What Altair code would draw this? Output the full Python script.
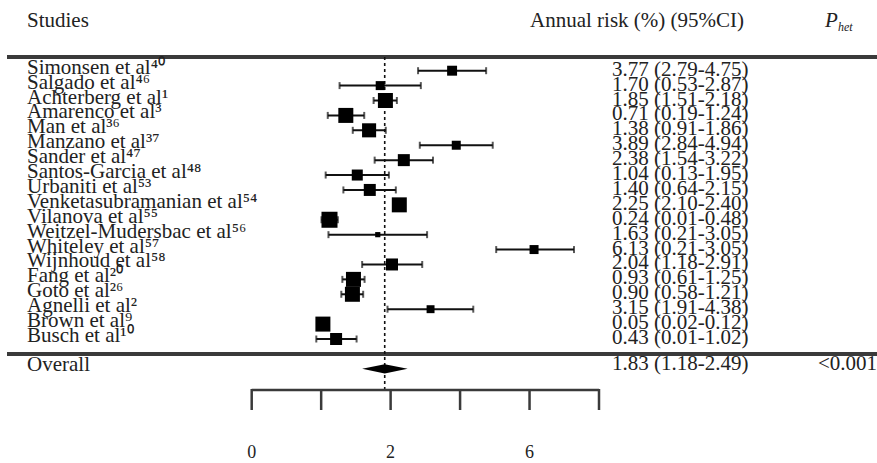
import altair as alt
import pandas as pd

# ---------------- data ----------------
studies = ["Simonsen et al", "Salgado et al", "Achterberg et al", "Amarenco et al", "Man et al",
           "Manzano et al", "Sander et al", "Santos-Garcia et al", "Urbaniti et al",
           "Venketasubramanian et al", "Vilanova et al", "Weitzel-Mudersbac et al", "Whiteley et al",
           "Wijnhoud et al", "Fang et al", "Goto et al", "Agnelli et al", "Brown et al", "Busch et al"]
refs = ["40", "46", "1", "3", "36", "37", "47", "48", "53", "54", "55", "56", "57", "58",
        "20", "26", "2", "9", "10"]
est = [3.77, 1.70, 1.85, 0.71, 1.38, 3.89, 2.38, 1.04, 1.40, 2.25, 0.24, 1.63, 6.13, 2.04,
       0.93, 0.90, 3.15, 0.05, 0.43]
lo = [2.79, 0.53, 1.51, 0.19, 0.91, 2.84, 1.54, 0.13, 0.64, 2.10, 0.01, 0.21, 5.04, 1.18,
      0.61, 0.58, 1.91, 0.02, -0.14]
hi = [4.75, 2.87, 2.18, 1.24, 1.86, 4.94, 3.22, 1.95, 2.15, 2.40, 0.48, 3.05, 7.28, 2.91,
      1.25, 1.21, 4.38, 0.12, 1.02]
weights = [2.2, 1.8, 5.0, 5.0, 4.4, 1.8, 3.2, 2.7, 3.2, 5.0, 5.7, 0.6, 1.8, 3.2, 5.0, 5.0,
           1.4, 5.0, 3.2]
ci_text = ["3.77 (2.79-4.75)", "1.70 (0.53-2.87)", "1.85 (1.51-2.18)", "0.71 (0.19-1.24)",
           "1.38 (0.91-1.86)", "3.89 (2.84-4.94)", "2.38 (1.54-3.22)", "1.04 (0.13-1.95)",
           "1.40 (0.64-2.15)", "2.25 (2.10-2.40)", "0.24 (0.01-0.48)", "1.63 (0.21-3.05)",
           "6.13 (0.21-3.05)", "2.04 (1.18-2.91)", "0.93 (0.61-1.25)", "0.90 (0.58-1.21)",
           "3.15 (1.91-4.38)", "0.05 (0.02-0.12)", "0.43 (0.01-1.02)"]
overall_est = 1.83
overall_lo = 1.18
overall_hi = 2.49
overall_text = "1.83 (1.18-2.49)"
p_het = "<0.001"
tick_values = [-2, 0, 2, 4, 6, 8]
tick_label_pos = [-2, 2, 6]
tick_label_text = ["0", "2", "6"]

SUP = str.maketrans("0123456789", "⁰¹²³⁴⁵⁶⁷⁸⁹")

n = len(studies)
df = pd.DataFrame({
    "row": list(range(1, n + 1)),
    "label": [s + r.translate(SUP) for s, r in zip(studies, refs)],
    "est": est, "lo": lo, "hi": hi, "w": weights, "txt": ci_text,
})
overall_row = n + 2
df_overall = pd.DataFrame({"row": [overall_row], "est": [overall_est],
                           "label": ["Overall"], "txt": [overall_text], "p": [p_het]})
half = 0.31
df_diamond = pd.DataFrame({
    "x": [overall_lo, overall_est, overall_hi],
    "ya": [overall_row, overall_row - half, overall_row],
    "yb": [overall_row, overall_row + half, overall_row],
})
df_ticks = pd.DataFrame({"t": tick_values})
df_axis = pd.DataFrame({"a": [min(tick_values)], "b": [max(tick_values)]})
df_tlab = pd.DataFrame({"t": tick_label_pos, "s": tick_label_text})

# ---------------- scales / styles ----------------
xs = alt.Scale(domain=[-2, 8], range=[251.7, 599], zero=False, nice=False)
ys = alt.Scale(domain=[1, 19], range=[70.7, 339], zero=False, nice=False)
FONT = "Liberation Serif"
TXT = "#222222"
LINE = "#3a3a3a"

X = lambda f: alt.X(f, scale=xs, axis=None)
Y = lambda f: alt.Y(f, scale=ys, axis=None)

base = alt.Chart(df)

sep_top = alt.Chart(df_overall).mark_rule(color=LINE, strokeWidth=4).encode(
    x=alt.value(7), x2=alt.value(877), y=alt.value(57))
sep_bot = alt.Chart(df_overall).mark_rule(color=LINE, strokeWidth=4).encode(
    x=alt.value(7), x2=alt.value(877), y=alt.value(354))

dashed = alt.Chart(df_overall).mark_rule(color="#111", strokeWidth=1.6, strokeDash=[3, 3]).encode(
    x=X("est:Q"), y=alt.value(57), y2=alt.value(390))

ci = base.mark_rule(color="#111", strokeWidth=2).encode(x=X("lo:Q"), x2="hi:Q", y=Y("row:Q"))
caps = base.transform_fold(["lo", "hi"], as_=["k", "v"]).mark_tick(
    orient="vertical", size=7, thickness=2, color="#111").encode(x=X("v:Q"), y=Y("row:Q"))
squares = base.mark_square(color="black", opacity=1, filled=True).encode(
    x=X("est:Q"), y=Y("row:Q"),
    size=alt.Size("w:Q", scale=alt.Scale(domain=[0, 5], range=[0, 225]), legend=None))

diamond = alt.Chart(df_diamond).mark_area(color="black", orient="vertical").encode(
    x=X("x:Q"), y=Y("ya:Q"), y2="yb:Q")

labels = base.mark_text(align="left", baseline="middle", font=FONT, fontSize=21, color=TXT, dy=-3).encode(
    x=alt.value(27), y=Y("row:Q"), text="label:N")
values = base.mark_text(align="left", baseline="middle", font=FONT, fontSize=21, color=TXT, dy=-1).encode(
    x=alt.value(612), y=Y("row:Q"), text="txt:N")

ov_label = alt.Chart(df_overall).mark_text(align="left", baseline="middle", font=FONT, fontSize=21,
                                          color=TXT, dy=-4).encode(
    x=alt.value(27), y=Y("row:Q"), text="label:N")
ov_val = alt.Chart(df_overall).mark_text(align="left", baseline="middle", font=FONT, fontSize=21,
                                        color=TXT, dy=-5).encode(
    x=alt.value(612), y=Y("row:Q"), text="txt:N")
ov_p = alt.Chart(df_overall).mark_text(align="right", baseline="middle", font=FONT, fontSize=21,
                                      color=TXT, dy=-5).encode(
    x=alt.value(877), y=Y("row:Q"), text="p:N")

h1 = alt.Chart(df_overall).mark_text(text="Studies", align="left", baseline="middle", font=FONT,
                                     fontSize=21, color=TXT).encode(x=alt.value(27), y=alt.value(21))
h2 = alt.Chart(df_overall).mark_text(text="Annual risk (%) (95%CI)", align="left", baseline="middle",
                                     font=FONT, fontSize=21, color=TXT).encode(x=alt.value(530), y=alt.value(21))
h3 = alt.Chart(df_overall).mark_text(text="P", align="left", baseline="middle", font=FONT,
                                     fontSize=21, fontStyle="italic", color=TXT).encode(x=alt.value(825), y=alt.value(21))
h4 = alt.Chart(df_overall).mark_text(text="het", align="left", baseline="middle", font=FONT,
                                     fontSize=12, fontStyle="italic", color=TXT).encode(x=alt.value(838), y=alt.value(27))

axis_line = alt.Chart(df_axis).mark_rule(color=LINE, strokeWidth=2.5).encode(
    x=X("a:Q"), x2="b:Q", y=alt.value(390))
axis_ticks = alt.Chart(df_ticks).mark_rule(color=LINE, strokeWidth=2.5).encode(
    x=X("t:Q"), y=alt.value(389), y2=alt.value(410))
axis_labels = alt.Chart(df_tlab).mark_text(align="center", baseline="middle", font=FONT,
                                          fontSize=18, color=TXT).encode(
    x=X("t:Q"), y=alt.value(453), text="s:N")

chart = alt.layer(
    sep_top, sep_bot, dashed, ci, caps, squares, diamond, labels, values,
    ov_label, ov_val, ov_p, h1, h2, h3, h4, axis_line, axis_ticks, axis_labels
).properties(
    width=877, height=463, autosize=alt.AutoSizeParams(type="none"), padding=0,
    background="white"
).configure_view(strokeWidth=0)

chart.save("out.html", embed_options={"renderer": "svg", "actions": False})
